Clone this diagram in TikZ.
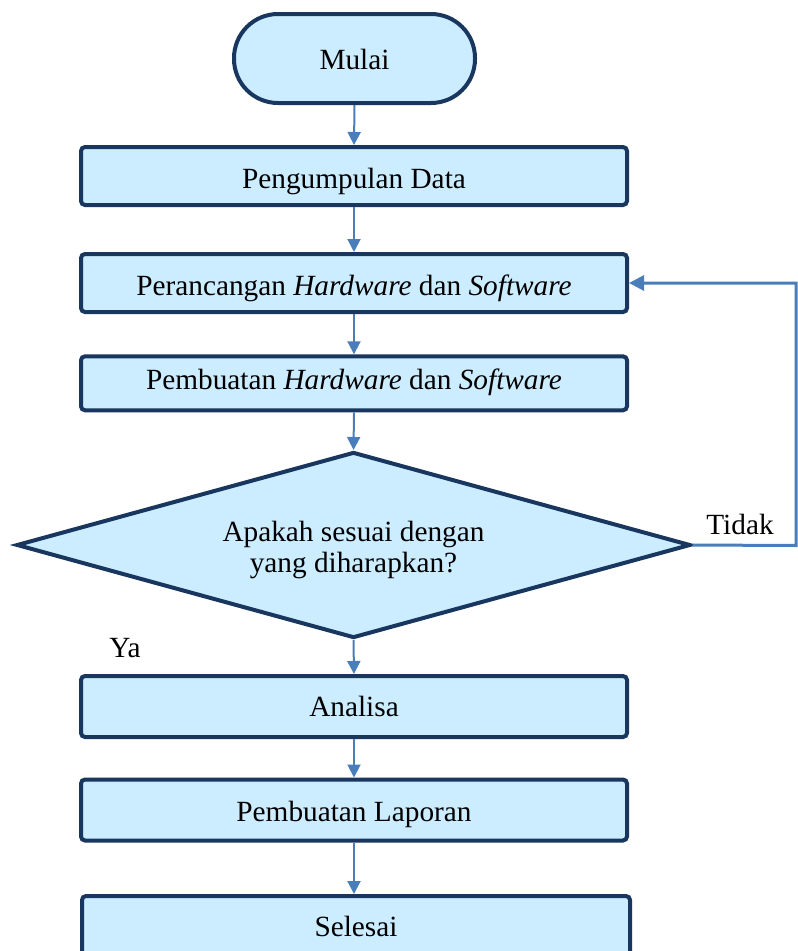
\documentclass[tikz,border=0pt]{standalone}
\usepackage{fontspec}
\setmainfont{Liberation Serif}
\usetikzlibrary{shapes.geometric,arrows.meta}
\definecolor{boxfill}{RGB}{204,236,255}
\definecolor{boxline}{RGB}{24,54,94}
\definecolor{arrowblue}{RGB}{74,126,187}
\begin{document}
\begin{tikzpicture}[x=1pt,y=-1pt,
  every node/.style={font=\fontsize{29.3}{35}\selectfont},
  procbox/.style={draw=boxline,fill=boxfill,line width=4pt,rounded corners=4pt,
    minimum width=546pt,inner sep=0pt,align=center,text height=20pt,text depth=0pt},
  flow/.style={draw=arrowblue,line width=2pt,-{Triangle[length=13pt,width=13pt]}},
  backflow/.style={draw=arrowblue,line width=3pt,-{Triangle[length=15pt,width=15pt]}}]
\useasboundingbox (0,0) rectangle (798,951);
\node[procbox,rounded corners=44pt,minimum width=241pt,minimum height=89pt,text height=22pt] (mulai) at (354.5,58.5) {Mulai};
\node[procbox,minimum height=58pt,text height=24pt] (data) at (354,176) {Pengumpulan Data};
\node[procbox,minimum height=58pt,text height=25pt] (rancang) at (354,283) {Perancangan \textit{Hardware} dan \textit{Software}};
\node[procbox,minimum height=54pt,text depth=8pt] (buat) at (354,383.3) {Pembuatan \textit{Hardware} dan \textit{Software}};
\node[diamond,draw=boxline,fill=boxfill,line width=4pt,aspect=3.7,inner sep=0pt,
  minimum width=674pt,minimum height=186pt,align=center,
  font=\fontsize{29.3}{31}\selectfont,text height=60pt,text depth=5.5pt] (cek) at (353.5,545)
  {Apakah sesuai dengan\\yang diharapkan?};
\node[procbox,minimum height=61pt] (analisa) at (354,706.5) {Analisa};
\node[procbox,minimum height=61pt,text height=22pt] (laporan) at (354,810) {Pembuatan Laporan};
\node[procbox,minimum height=60pt,minimum width=548pt] (selesai) at (356,926) {Selesai};
\node (ya) at (125,648.5) {Ya};
\node (tidak) at (740,524) {Tidak};
\coordinate (c1) at (796,545.5);
\coordinate (c2) at (796,283);
\draw[flow] (mulai.south) -- (data.north);
\draw[flow] (data.south) -- (rancang.north);
\draw[flow] (rancang.south) -- (buat.north);
\draw[flow] (buat.south) -- (cek.north);
\draw[flow] (cek.south) -- (analisa.north);
\draw[flow] (analisa.south) -- (laporan.north);
\draw[flow] (laporan.south) -- (laporan.south |- selesai.north);
\draw[backflow] (cek.east) -- (c1) -- (c2) -- (rancang.east);
\end{tikzpicture}
\end{document}
